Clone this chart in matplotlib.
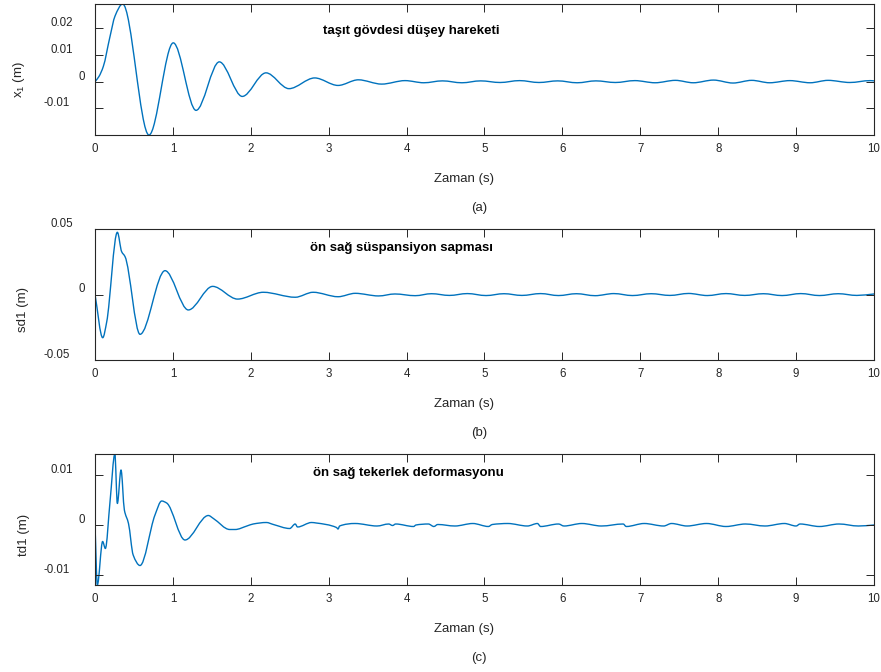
import numpy as np
import matplotlib
matplotlib.use("Agg")
import matplotlib.pyplot as plt
from matplotlib.path import Path
from matplotlib.patches import PathPatch

plt.rcParams["font.family"] = ["Liberation Sans", "DejaVu Sans"]
plt.rcParams["mathtext.fontset"] = "custom"
plt.rcParams["mathtext.rm"] = "Liberation Sans"
plt.rcParams["mathtext.it"] = "Liberation Sans"

# ---- (a) body vertical displacement x1 [m] : knots of the response
t_body = [0.0, 0.05, 0.107, 0.19, 0.257, 0.355, 0.693, 1.005, 1.297, 1.596, 1.89,
          2.195, 2.49, 2.82, 3.12, 3.38, 3.68, 3.98, 4.22, 4.46, 4.71, 4.95, 5.20,
          5.45, 5.70, 5.94, 6.19, 6.43, 6.68, 6.93, 7.19, 7.45, 7.68, 7.94, 8.19,
          8.43, 8.66, 8.92, 9.18, 9.41, 9.69, 9.95, 10.0]
x_body = [0.0, 0.0019, 0.0057, 0.0165, 0.0245, 0.0290, -0.0199, 0.0145, -0.0107,
          0.0074, -0.0055, 0.0033, -0.0026, 0.0014, -0.0014, 0.0007, -0.0009,
          0.0004, -0.0004, 0.0003, -0.0004, 0.0003, -0.0003, 0.0004, -0.0003,
          0.0003, -0.0004, 0.0003, -0.0003, 0.0004, -0.0004, 0.0005, -0.0004,
          0.0006, -0.0005, 0.0005, -0.0004, 0.0004, -0.0004, 0.0005, -0.0003,
          0.0004, 0.0003]

# ---- (b) front-right suspension deflection sd1 [m]
t_susp = [0.0, 0.099, 0.15, 0.287, 0.342, 0.385, 0.578, 0.899, 1.198, 1.51, 1.83,
          2.16, 2.57, 2.80, 3.12, 3.34, 3.64, 3.85, 4.11, 4.32, 4.55, 4.78, 5.02,
          5.25, 5.48, 5.72, 5.95, 6.18, 6.42, 6.66, 6.90, 7.14, 7.38, 7.62, 7.86,
          8.10, 8.34, 8.58, 8.82, 9.06, 9.30, 9.54, 9.78, 10.0]
sd_susp = [0.0, -0.033, -0.021, 0.0475, 0.0327, 0.029, -0.0304, 0.0182, -0.0118,
           0.0062, -0.0035, 0.0017, -0.0021, 0.0017, -0.0017, 0.0009, -0.0011,
           0.0004, -0.0009, 0.0006, -0.0007, 0.0007, -0.0008, 0.0006, -0.0007,
           0.0007, -0.0008, 0.0006, -0.0009, 0.0007, -0.0008, 0.0006, -0.0007,
           0.0008, -0.0008, 0.0007, -0.0007, 0.0006, -0.0008, 0.0007, -0.0008,
           0.0006, -0.0007, 0.0004]

# ---- (c) front-right tyre deflection td1 [m]
t_tyre = [0.0, 0.03, 0.098, 0.133, 0.193, 0.255, 0.287, 0.334, 0.377, 0.43, 0.49,
          0.578, 0.77, 0.856, 0.92, 1.155, 1.455, 1.52, 1.73, 1.80, 1.95, 2.03,
          2.20, 2.29, 2.50, 2.57, 2.60, 2.78, 2.84, 3.10, 3.12, 3.14, 3.34, 3.62,
          3.77, 3.82, 3.86, 4.09, 4.12, 4.28, 4.35, 4.40, 4.62, 4.85, 5.05, 5.10,
          5.30, 5.55, 5.68, 5.72, 5.95, 6.02, 6.25, 6.50, 6.78, 6.82, 7.05, 7.30,
          7.40, 7.60, 7.85, 8.10, 8.35, 8.60, 8.85, 9.00, 9.05, 9.30, 9.55, 9.80,
          10.0]
td_tyre = [0.0, -0.0120, -0.0033, -0.0047, 0.0047, 0.0142, 0.0043, 0.0110, 0.0030,
           0.0003, -0.0060, -0.0081, 0.0020, 0.0048, 0.0044, -0.0030, 0.0019,
           0.0013, -0.0009, -0.0009, -0.0002, 0.0002, 0.0005, 0.0001, -0.0007,
           0.0002, -0.0004, 0.0005, 0.0004, -0.0005, -0.0008, -0.0002, 0.0003,
           -0.0002, 0.0002, -0.0001, 0.0002, -0.0003, 0.0000, 0.0002, -0.0003,
           0.0001, -0.0002, 0.0003, -0.0003, 0.0001, 0.0003, -0.0002, 0.0003,
           -0.0003, 0.0002, -0.0002, 0.0003, -0.0002, 0.0002, -0.0003, 0.0003,
           -0.0002, 0.0003, -0.0002, 0.0003, -0.0003, 0.0002, -0.0002, 0.0003,
           -0.0002, 0.0002, -0.0003, 0.0002, -0.0002, 0.0000]

x_ticks = [0, 1, 2, 3, 4, 5, 6, 7, 8, 9, 10]
y_ticks_body = [-0.01, 0, 0.01, 0.02]
y_ticks_susp = [-0.05, 0, 0.05]
y_ticks_tyre = [-0.01, 0, 0.01]
y_ticklabels_body = ["-0.01", "0", "0.01", "0.02"]
y_ticklabels_susp = ["-0.05", "0", "0.05"]
y_ticklabels_tyre = ["-0.01", "0", "0.01"]

titles = ["taşıt gövdesi düşey hareketi", "ön sağ süspansiyon sapması",
          "ön sağ tekerlek deformasyonu"]
ylabels = [r"$\mathregular{x_1}$ (m)", "sd1 (m)", "td1 (m)"]
xlabel = "Zaman (s)"
panel_tags = ["(a)", "(b)", "(c)"]

LINE = "#0072BD"
AXC = "#262626"


def smooth_path(t, v):
    """Shape-preserving cubic Hermite curve through the knots, as Bezier path."""
    t = np.asarray(t, float)
    v = np.asarray(v, float)
    h = np.diff(t)
    d = np.diff(v) / h
    m = np.zeros_like(v)
    m[0], m[-1] = d[0], d[-1]
    for i in range(1, len(v) - 1):
        if d[i - 1] * d[i] > 0:
            w1 = 2 * h[i] + h[i - 1]
            w2 = h[i] + 2 * h[i - 1]
            m[i] = (w1 + w2) / (w1 / d[i - 1] + w2 / d[i])
    verts = [(t[0], v[0])]
    codes = [Path.MOVETO]
    for i in range(len(h)):
        verts += [(t[i] + h[i] / 3, v[i] + m[i] * h[i] / 3),
                  (t[i + 1] - h[i] / 3, v[i + 1] - m[i + 1] * h[i] / 3),
                  (t[i + 1], v[i + 1])]
        codes += [Path.CURVE4] * 3
    return Path(verts, codes)


fig = plt.figure(figsize=(8.81, 6.72), dpi=100)
W, H = 881, 672
ax_left, ax_w, ax_h = 95 / W, 779 / W, 131 / H
bottoms = [1 - 135 / H, 1 - 360 / H, 1 - 585 / H]

series = [(t_body, x_body, y_ticks_body, y_ticklabels_body, None),
          (t_susp, sd_susp, y_ticks_susp, y_ticklabels_susp, (-0.05, 0.05)),
          (t_tyre, td_tyre, y_ticks_tyre, y_ticklabels_tyre, None)]
title_pos = [(2.93, 0.0191), (2.76, 0.0355), (2.80, 0.0104)]
ylabel_x = [-0.098, -0.0924, -0.0911]
ylabel_y = [0.427, 0.382, 0.382]

for k, (t, v, yt, ytl, ylim) in enumerate(series):
    ax = fig.add_axes([ax_left, bottoms[k], ax_w, ax_h])
    ax.add_patch(PathPatch(smooth_path(t, v), fill=False, edgecolor=LINE,
                           lw=1.0, joinstyle="round", capstyle="round"))
    ax.set_xlim(0, 10)
    ax.set_ylim(ylim if ylim is not None else (min(v), max(v)))

    for s in ax.spines.values():
        s.set_color(AXC)
        s.set_linewidth(0.8)
    ax.set_xticks(x_ticks)
    ax.set_xticklabels([str(x) for x in x_ticks])
    ax.set_yticks(yt)
    ax.tick_params(direction="in", top=True, right=True, length=5.6,
                   width=0.7, color=AXC, labelsize=8.3, labelcolor=AXC,
                   labelleft=False)
    ax.tick_params(axis="x", pad=5.5)

    for val, lab in zip(yt, ytl):
        dx = -10 if lab == "0" else (-25 if lab.startswith("-") else -22)
        ax.annotate(lab, xy=(0, val), xycoords=ax.get_yaxis_transform(),
                    xytext=(dx, 5), textcoords="offset pixels", ha="right",
                    va="center", fontsize=8.3, color=AXC, annotation_clip=False)

    ax.set_xlabel(xlabel, fontsize=9.5, color=AXC)
    ax.xaxis.label.set_va("center")
    ax.xaxis.set_label_coords(0.474, -44 / 131)
    ax.set_ylabel(ylabels[k], fontsize=9.5, color=AXC)
    ax.yaxis.label.set_va("center")
    ax.yaxis.set_label_coords(ylabel_x[k], ylabel_y[k])

    ax.text(title_pos[k][0], title_pos[k][1], titles[k], fontsize=9.5,
            fontweight="bold", color="black", ha="left", va="center")
    ax.annotate(panel_tags[k], xy=(0.493, 0), xycoords="axes fraction",
                xytext=(0, -73), textcoords="offset pixels", ha="center",
                va="center", fontsize=9.5, color=AXC, annotation_clip=False)

fig.savefig("out.png", dpi=100)
